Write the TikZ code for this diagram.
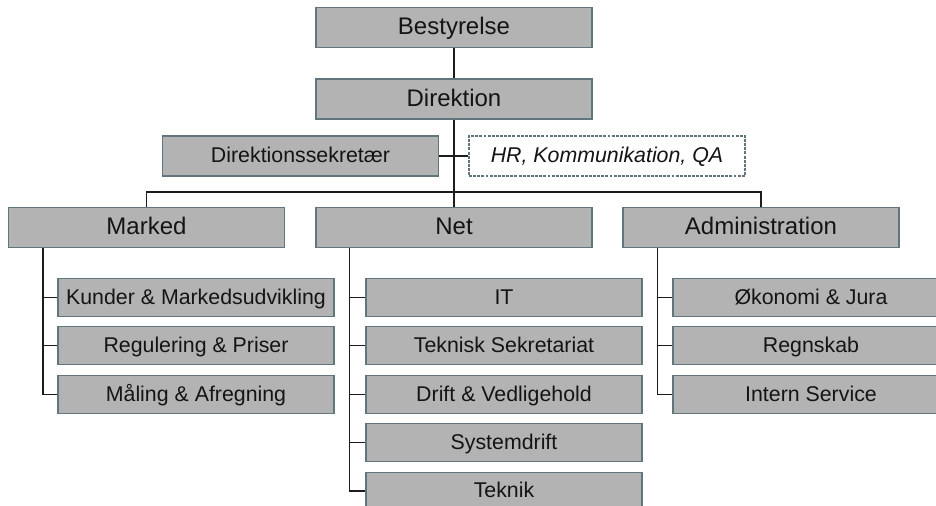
\documentclass[tikz,border=0pt]{standalone}
\usepackage{fontspec}
\setmainfont{Liberation Sans}
\usepackage{xcolor}
\usepackage{tikz}
\usetikzlibrary{positioning,calc}
\definecolor{boxgray}{RGB}{179,179,179}
\definecolor{boxedge}{RGB}{96,118,124}
\definecolor{linkgray}{RGB}{28,28,28}
\definecolor{textdark}{RGB}{20,20,20}

\begin{document}
\begin{tikzpicture}[
    x=0.75pt, y=-0.75pt,
    unit/.style={draw=boxedge, line width=0.8pt, fill=boxgray, inner sep=0pt,
                 minimum width=207pt, minimum height=30pt, text=textdark,
                 text height=13pt, text depth=1.8pt,
                 font=\fontsize{18}{20}\selectfont},
    sub/.style={unit, minimum height=28pt, text height=11.5pt, text depth=1.7pt,
                font=\fontsize{16}{18}\selectfont},
    staff/.style={sub, minimum height=30pt, fill=white, dashed,
                  dash pattern=on 2.2pt off 0.9pt, font=\fontsize{16}{18}\itshape},
    link/.style={draw=linkgray, line width=0.8pt}
]
\useasboundingbox (0,0) rectangle (936,506);
\clip (0,0) rectangle (936,506);

% top
\node[unit] (bes) at (454,27.5) {Bestyrelse};
\node[unit] (dir) at (454,99) {Direktion};
\node[sub, minimum height=30pt] (sek) at (300.5,156) {Direktionssekretær};
\node[staff] (hr) at (607,156) {HR, Kommunikation, QA};

% divisions
\node[unit] (mar) at (146.5,227.5) {Marked};
\node[unit] (net) at (454,227.5) {Net};
\node[unit] (adm) at (761,227.5) {Administration};

% departments
\node[sub] (m1) at (196,297.5) {Kunder \& Markedsudvikling};
\node[sub] (m2) at (196,345.5) {Regulering \& Priser};
\node[sub] (m3) at (196,394.5) {Måling \& Afregning};

\node[sub] (n1) at (504,297.5) {IT};
\node[sub] (n2) at (504,345.5) {Teknisk Sekretariat};
\node[sub] (n3) at (504,394.5) {Drift \& Vedligehold};
\node[sub] (n4) at (504,442.5) {Systemdrift};
\node[sub] (n5) at (504,491) {Teknik};

\node[sub] (a1) at (811,297.5) {Økonomi \& Jura};
\node[sub] (a2) at (811,345.5) {Regnskab};
\node[sub] (a3) at (811,394.5) {Intern Service};

% connectors
\coordinate (bus) at (454,192);
\draw[link] (bes) -- (dir);
\draw[link] (dir) -- (net);
\draw[link] (sek) -- (hr);
\draw[link] (mar.north) |- (bus) -| (adm.north);

\coordinate (m0) at ($(mar.south west)+(35,0)$);
\coordinate (n0) at ($(net.south west)+(34,0)$);
\coordinate (a0) at ($(adm.south west)+(35,0)$);
\foreach \i in {1,2} \draw[link] (m0 |- m\i.west) -- (m\i.west);
\draw[link] (m0) |- (m3.west);
\foreach \i in {1,...,4} \draw[link] (n0 |- n\i.west) -- (n\i.west);
\draw[link] (n0) |- (n5.west);
\foreach \i in {1,2} \draw[link] (a0 |- a\i.west) -- (a\i.west);
\draw[link] (a0) |- (a3.west);
\end{tikzpicture}
\end{document}
